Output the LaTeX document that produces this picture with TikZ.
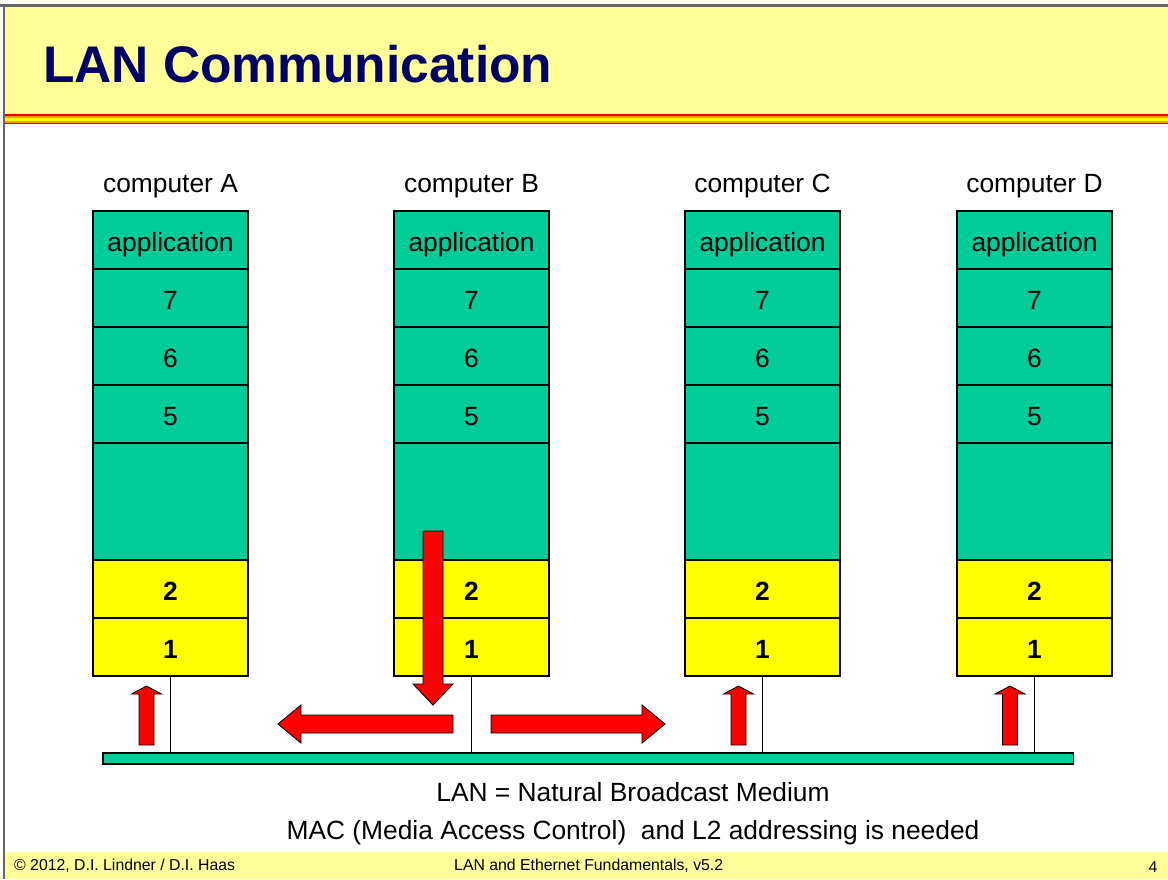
\documentclass[tikz,border=0pt]{standalone}
\usepackage{fontspec}
\setmainfont{Liberation Sans}
\usetikzlibrary{positioning}

\definecolor{lanteal}{HTML}{00CC99}
\definecolor{lanyellow}{HTML}{FFFF00}
\definecolor{paleyellow}{HTML}{FFFF99}
\definecolor{titleblue}{HTML}{000066}
\definecolor{framegray}{HTML}{666666}
\definecolor{stripeorange}{HTML}{FF9900}
\definecolor{stripered}{HTML}{E00000}

\begin{document}
\begin{tikzpicture}[x=0.02cm,y=-0.02cm,
				every node/.style={font=\fontsize{15}{18}\selectfont},
				layer/.style={rectangle,draw,line width=1.1pt,fill=lanteal,minimum width=3.1cm,minimum height=1.16cm,inner sep=0pt,outer sep=0pt,text height=13.6pt,text depth=0pt},
				lowlayer/.style={layer,fill=lanyellow,font=\fontsize{15}{18}\selectfont\bfseries},
				busbar/.style={rectangle,draw,line width=1.1pt,fill=lanteal,minimum width=19.41cm,minimum height=0.22cm,inner sep=0pt,outer sep=0pt},
				tap/.style={draw,line width=0.8pt},
				redarrow/.style={fill=red,draw=black,line width=0.5pt},
				footnote/.style={anchor=west,font=\fontsize{9}{11}\selectfont}
				]
				\useasboundingbox (0,0) rectangle (1168,879);
				% title band and footer
				\fill[paleyellow] (5,7) rectangle (1168,114);
				\fill[stripered] (5,114) rectangle (1168,115.5);
				\fill[stripeorange] (5,115.5) rectangle (1168,117.5);
				\fill[lanyellow] (5,117.5) rectangle (1168,120.5);
				\fill[stripeorange] (5,120.5) rectangle (1168,122.5);
				\fill[stripered] (5,122.5) rectangle (1168,124);
				\fill[paleyellow] (5,852) rectangle (1168,879);
				\draw[framegray,line width=1.6pt] (0,5.5) -- (1168,5.5);
				\draw[framegray,line width=1.2pt] (4,5) -- (4,879);
				\node (title) [anchor=base west,text=titleblue,font=\fontsize{29.3}{34}\selectfont\bfseries] at (37,82) {LAN Communication};
				% bus
				\node (bus) [busbar] at (588.3,758.5) {};
				% computers
				\foreach \c/\x in {A/170.5,B/471.5,C/762.5,D/1034.5}{
					\node (app\c) [layer] at (\x,240) {application};
					\node (seven\c) [layer,below=0pt of app\c] {7};
					\node (six\c) [layer,below=0pt of seven\c] {6};
					\node (five\c) [layer,below=0pt of six\c] {5};
					\node (mid\c) [layer,minimum height=2.34cm,below=0pt of five\c] {};
					\node (two\c) [lowlayer,below=0pt of mid\c] {2};
					\node (one\c) [lowlayer,below=0pt of two\c] {1};
					\node (name\c) [anchor=base] at (\x,192) {computer \c};
					\draw[tap] (one\c.south) -- (one\c.south |- bus.north);
				}
				% receiving arrows
				\foreach \x in {146.5,738.5,1010}{
					\filldraw[redarrow] (\x-7.5,745) -- ++(0,-51) -- ++(-7.5,0) -- ++(15,-8) -- ++(15,8) -- ++(-7.5,0) -- ++(0,51) -- cycle;
				}
				% sending arrows
				\filldraw[redarrow] (423,531) -- (423,684) -- (413,684) -- (433,705) -- (453,684) -- (443,684) -- (443,531) -- cycle;
				\filldraw[redarrow] (453,715) -- (301,715) -- (301,705) -- (278,724) -- (301,743) -- (301,733) -- (453,733) -- cycle;
				\filldraw[redarrow] (491,715) -- (642,715) -- (642,705) -- (665,724) -- (642,743) -- (642,733) -- (491,733) -- cycle;
				% notes
				\node (medium) [anchor=base] at (633,801) {LAN = Natural Broadcast Medium};
				\node (mac) [anchor=base] at (633,839) {MAC (Media Access Control)~ and L2 addressing is needed};
				\node (copyright) [footnote] at (8,866) {© 2012, D.I. Lindner / D.I. Haas};
				\node (course) [footnote] at (448,866) {LAN and Ethernet Fundamentals, v5.2};
				\node (page) [font=\fontsize{9}{11}\selectfont] at (1153,867) {4};
\end{tikzpicture}
\end{document}
